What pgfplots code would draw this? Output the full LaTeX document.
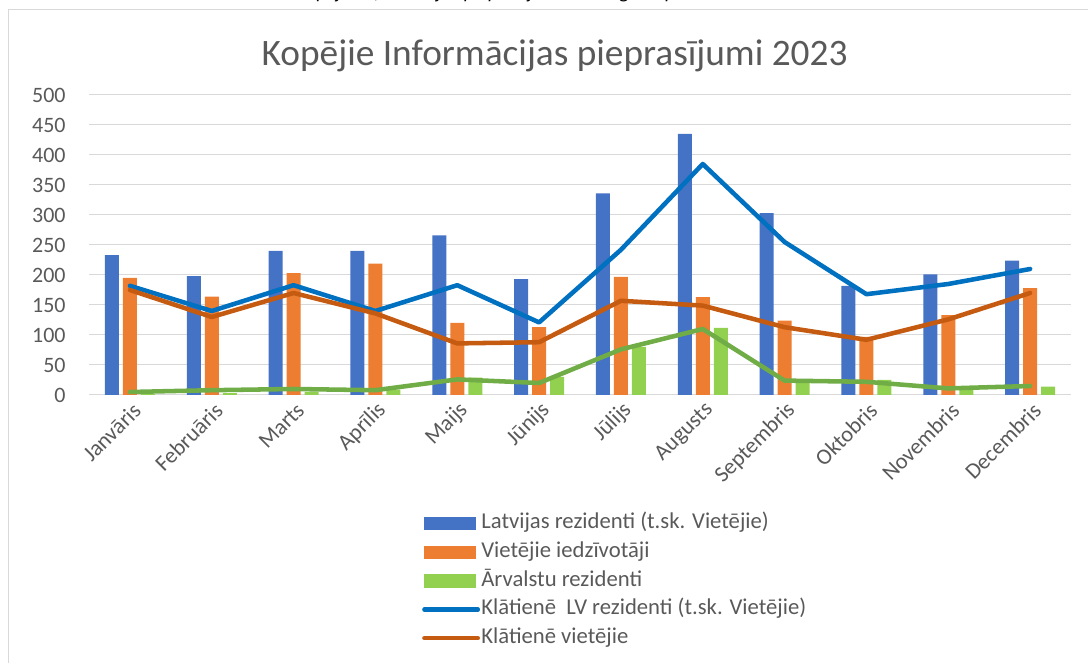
\documentclass[border=0pt]{standalone}
\usepackage{pgfplots}
\pgfplotsset{compat=1.18}
\usepackage{fontspec}
\setmainfont{Carlito}
\definecolor{cBlueBar}{HTML}{4472C4}
\definecolor{cOrangeBar}{HTML}{ED7D31}
\definecolor{cGreenBar}{HTML}{92D050}
\definecolor{cBlueLine}{HTML}{0070C0}
\definecolor{cOrangeLine}{HTML}{C55A11}
\definecolor{cGreenLine}{HTML}{70AD47}
\definecolor{gridc}{HTML}{D9D9D9}
\definecolor{textc}{HTML}{595959}

\pgfplotstableread{
x lv viet arv klv kviet karv
0 233 195 2 182 175 5
1 198 164 3 140 130 8
2 240 203 5 183 170 10
3 240 219 9 140 136 8
4 266 120 29 183 86 26
5 193 113 30 121 88 20
6 336 197 80 242 157 76
7 435 163 112 385 149 110
8 303 124 25 255 113 24
9 182 97 25 168 92 22
10 201 133 11 185 126 11
11 224 178 14 210 170 15
}\datatable

\begin{document}
\begin{tikzpicture}
\path[use as bounding box, clip] (0,0) rectangle (816pt,497.25pt);
\draw[color=gridc, line width=0.75pt] (6pt,489.75pt) rectangle (830pt,-20pt);
\node[anchor=base west, font=\fontsize{15}{18}\selectfont\itshape, text=black, inner sep=0pt] at (222pt,498.6pt) {Kopējie informācijas pieprasījumi 2023. gadā pa mēnešiem};
\node[font=\fontsize{28}{34}\selectfont, text=textc] at (416pt,455pt) {Kopējie Informācijas pieprasījumi 2023};
\begin{axis}[
  at={(66.75pt,201pt)}, anchor=south west,
  scale only axis, width=736.5pt, height=225pt,
  xmin=-0.5, xmax=11.5, ymin=0, ymax=500,
  ytick={0,50,...,500},
  xtick={0,...,11},
  xticklabels={Janvāris,Februāris,Marts,Aprīlis,Maijs,Jūnijs,Jūlijs,Augusts,Septembris,Oktobris,Novembris,Decembris},
  ymajorgrids, grid style={color=gridc, line width=0.75pt},
  axis line style={draw=none}, major tick style={draw=none},
  /pgf/number format/assume math mode=true,
  yticklabel style={font=\fontsize{16.5}{20}\selectfont, text=textc, xshift=-14pt},
  xticklabel style={font=\fontsize{16.8}{20}\selectfont, text=textc, rotate=45, anchor=east, yshift=-10pt, xshift=1pt},
  legend style={at={(0.339,-0.392)}, anchor=north west, draw=none, fill=none, inner sep=0pt,
    font=\fontsize{17}{20}\selectfont, text=textc,
    nodes={inner xsep=1pt, inner ysep=0pt, text height=12pt, text depth=4pt},
    row sep=5.5pt},
  legend cell align=left,
]
\addplot[ybar, bar width=10.5pt, bar shift=-13.5pt, fill=cBlueBar, draw=none,
  legend image code/.code={\fill[cBlueBar] (0pt,-5pt) rectangle (39pt,5pt);}] table[x=x,y=lv] {\datatable};
\addlegendentry{Latvijas rezidenti (t.sk. Vietējie)}
\addplot[ybar, bar width=10.5pt, bar shift=0pt, fill=cOrangeBar, draw=none,
  legend image code/.code={\fill[cOrangeBar] (0pt,-5pt) rectangle (39pt,5pt);}] table[x=x,y=viet] {\datatable};
\addlegendentry{Vietējie iedzīvotāji}
\addplot[ybar, bar width=10.5pt, bar shift=13.5pt, fill=cGreenBar, draw=none,
  legend image code/.code={\fill[cGreenBar] (0pt,-5pt) rectangle (39pt,5pt);}] table[x=x,y=arv] {\datatable};
\addlegendentry{Ārvalstu rezidenti}
\addplot[color=cBlueLine, line width=3.4pt, line join=round, line cap=round, mark=none,
  legend image code/.code={\draw[cBlueLine, line width=3.4pt, line cap=round] (0pt,0pt) -- (40pt,0pt);}] table[x=x,y=klv] {\datatable};
\addlegendentry{Klātienē\ \ LV rezidenti (t.sk. Vietējie)}
\addplot[color=cOrangeLine, line width=3.4pt, line join=round, line cap=round, mark=none,
  legend image code/.code={\draw[cOrangeLine, line width=3.4pt, line cap=round] (0pt,0pt) -- (40pt,0pt);}] table[x=x,y=kviet] {\datatable};
\addlegendentry{Klātienē vietējie}
\addplot[color=cGreenLine, line width=3.4pt, line join=round, line cap=round, mark=none, forget plot] table[x=x,y=karv] {\datatable};
\end{axis}
\end{tikzpicture}
\end{document}
